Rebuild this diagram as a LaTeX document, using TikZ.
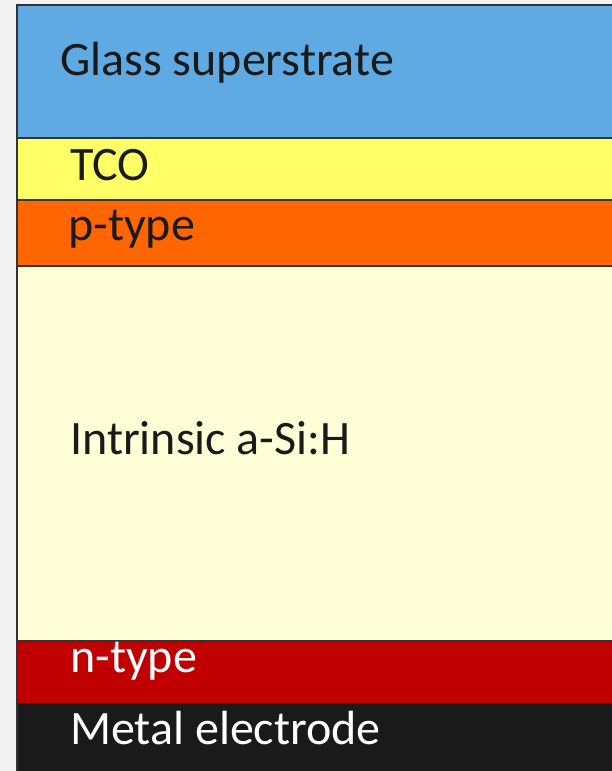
\documentclass[tikz,border=0pt]{standalone}
\usepackage{fontspec}
\setmainfont{Carlito}
\definecolor{pagebg}{HTML}{F3F3F3}
\definecolor{glass}{HTML}{5FAAE3}
\definecolor{tco}{HTML}{FFFF66}
\definecolor{ptype}{HTML}{FF6600}
\definecolor{intr}{HTML}{FFFFD7}
\definecolor{ntype}{HTML}{C00000}
\definecolor{metal}{HTML}{1A1A1A}
\definecolor{edge}{HTML}{333333}
\tikzset{lbl/.style={anchor=base west,inner sep=0pt,text=metal,font=\fontsize{48}{57}\selectfont},
 layer/.style={draw=edge,line width=1.5pt}}

\begin{document}
\begin{tikzpicture}[x=1pt,y=-1pt]
 \useasboundingbox (0,0) rectangle (612,771);
 \fill[pagebg] (0,0) rectangle (612,771);
 \coordinate (g0) at (17,5); \coordinate (g1) at (620,138); \coordinate (t0) at (17,138); \coordinate (t1) at (620,200);
 \coordinate (p0) at (17,200); \coordinate (p1) at (620,266); \coordinate (i0) at (17,266); \coordinate (i1) at (620,641);
 \coordinate (n0) at (17,641); \coordinate (n1) at (620,704); \coordinate (m0) at (17,704); \coordinate (m1) at (620,780);
 \filldraw[layer,fill=glass] (g0) rectangle (g1);
 \filldraw[layer,fill=tco] (t0) rectangle (t1);
 \filldraw[layer,fill=ptype] (p0) rectangle (p1);
 \filldraw[layer,fill=intr] (i0) rectangle (i1);
 \filldraw[layer,fill=ntype] (n0) rectangle (n1);
 \filldraw[layer,draw=metal,fill=metal] (m0) rectangle (m1);
 \draw[edge,line width=1.5pt] (g0) -- (17,771);
 \node[lbl] (glassl) at (60,75) {Glass superstrate};
 \node[lbl] (tcol) at (70,180) {TCO};
 \node[lbl] (pl) at (68,240) {p-type};
 \node[lbl] (il) at (70,454) {Intrinsic a-Si:H};
 \node[lbl,text=white] (nl) at (70,672) {n-type};
 \node[lbl,text=white] (ml) at (70,744) {Metal electrode};
\end{tikzpicture}
\end{document}
